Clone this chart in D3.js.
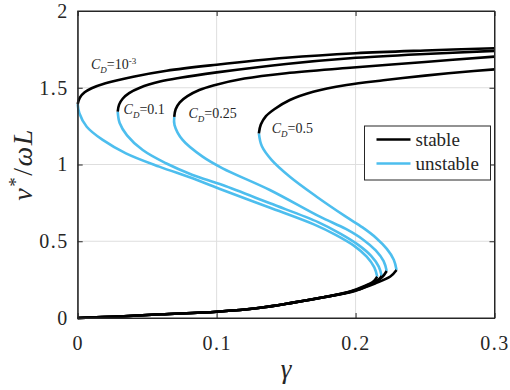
<!DOCTYPE html>
<html>
<head>
<meta charset="utf-8">
<script src="https://cdn.jsdelivr.net/npm/d3@7"></script>
<style>
  body { margin: 0; background: #fff; }
  svg text { font-family: "Liberation Serif", "Tinos", "Times New Roman", "DejaVu Serif", serif; }
</style>
</head>
<body>
<div id="chart"></div>
<script>
// Data: [gamma, v*/wL]
// each curve = lower stable branch + unstable middle branch + upper stable branch
const lowerCommon = [[0, 0], [0.03, 0.01], [0.06, 0.024], [0.1, 0.041], [0.13, 0.065], [0.155, 0.1], [0.177, 0.135]];

const lower1 = [[0.195, 0.17], [0.207, 0.21], [0.213, 0.24], [0.2156, 0.269]];
const lower2 = [[0.197, 0.172], [0.209, 0.215], [0.216, 0.245], [0.2188, 0.274]];
const lower3 = [[0.199, 0.175], [0.211, 0.22], [0.219, 0.265], [0.2224, 0.306]];
const lower4 = [[0.2, 0.18], [0.214, 0.225], [0.225, 0.27], [0.2295, 0.313]];

const unstable1 = [[0.2156, 0.269], [0.2135, 0.33], [0.208, 0.4], [0.199, 0.47], [0.186, 0.54], [0.17, 0.61],
  [0.138, 0.72], [0.1043, 0.834], [0.0827, 0.91], [0.0587, 0.986], [0.0347, 1.073], [0.018, 1.16],
  [0.0065, 1.246], [0.0012, 1.334], [0, 1.394]];
const unstable2 = [[0.2188, 0.274], [0.2167, 0.335], [0.2112, 0.405], [0.2022, 0.475], [0.189, 0.55], [0.173, 0.625],
  [0.1384, 0.747], [0.1043, 0.866], [0.0827, 0.932], [0.0635, 1.008], [0.0468, 1.094], [0.0355, 1.19],
  [0.0302, 1.27], [0.0288, 1.344]];
const unstable3 = [[0.2224, 0.306], [0.2202, 0.37], [0.2145, 0.44], [0.2055, 0.51], [0.193, 0.58], [0.1743, 0.66],
  [0.1383, 0.834], [0.1043, 0.975], [0.0899, 1.051], [0.0755, 1.16], [0.0697, 1.257], [0.0695, 1.311]];
const unstable4 = [[0.2295, 0.313], [0.2275, 0.38], [0.2225, 0.45], [0.215, 0.52], [0.205, 0.59], [0.193, 0.66],
  [0.172, 0.79], [0.1527, 0.92], [0.1395, 1.03], [0.1325, 1.12], [0.1304, 1.203]];

const upper1 = [[0, 1.394], [0.0015, 1.435], [0.005, 1.47], [0.01, 1.497], [0.02, 1.53], [0.04, 1.572], [0.064, 1.611],
  [0.1, 1.65], [0.15, 1.695], [0.2, 1.725], [0.25, 1.743], [0.3, 1.757]];
const upper2 = [[0.0288, 1.344], [0.0298, 1.39], [0.0325, 1.43], [0.037, 1.465], [0.0448, 1.5], [0.0592, 1.54],
  [0.0737, 1.565], [0.1, 1.6], [0.15, 1.655], [0.196, 1.692], [0.25, 1.72], [0.3, 1.74]];
const upper3 = [[0.0695, 1.311], [0.0705, 1.36], [0.0735, 1.405], [0.079, 1.445], [0.0875, 1.485], [0.0976, 1.515],
  [0.12, 1.56], [0.15, 1.595], [0.196, 1.63], [0.25, 1.668], [0.3, 1.703]];
const upper4 = [[0.1304, 1.203], [0.1318, 1.26], [0.1355, 1.315], [0.1415, 1.36], [0.1527, 1.42], [0.1695, 1.474],
  [0.1935, 1.518], [0.22, 1.549], [0.25, 1.579], [0.275, 1.601], [0.3, 1.62]];

const xTicks = [0, 0.1, 0.2, 0.3];
const yTicks = [0, 0.5, 1, 1.5, 2];
const xTickLabels = ["0", "0.1", "0.2", "0.3"];
const yTickLabels = ["0", "0.5", "1", "1.5", "2"];

const labels = [
  { cd: "=10", sup: "-3", g: 0.0095, v: 1.62 },
  { cd: "=0.1", sup: "", g: 0.033, v: 1.33 },
  { cd: "=0.25", sup: "", g: 0.0797, v: 1.30 },
  { cd: "=0.5", sup: "", g: 0.1396, v: 1.205 }
];
const legendItems = ["stable", "unstable"];

const black = "#000000", blue = "#4DBEEE", axisColor = "#262626";
const serif = "'Liberation Serif', Tinos, 'Times New Roman', 'DejaVu Serif', serif";

// Dimensions
const W = 510, H = 390;
const margin = { top: 11, left: 77.7, right: 15.5, bottom: 72 };
const width = W - margin.left - margin.right;
const height = H - margin.top - margin.bottom;

const svg = d3.select("#chart").append("svg")
  .attr("width", W).attr("height", H)
  .attr("font-family", serif);

const x = d3.scaleLinear().domain([0, 0.3]).range([0, width]);
const y = d3.scaleLinear().domain([0, 2]).range([height, 0]);

const g = svg.append("g").attr("transform", `translate(${margin.left},${margin.top})`);

// grid
g.selectAll(".gx").data(xTicks.slice(1, -1)).join("line")
  .attr("x1", d => x(d)).attr("x2", d => x(d)).attr("y1", 0).attr("y2", height)
  .attr("stroke", "#dedede").attr("stroke-width", 1);
g.selectAll(".gy").data(yTicks.slice(1, -1)).join("line")
  .attr("x1", 0).attr("x2", width).attr("y1", d => y(d)).attr("y2", d => y(d))
  .attr("stroke", "#dedede").attr("stroke-width", 1);

// curves
const line = d3.line()
  .x(d => x(d[0])).y(d => y(d[1]))
  .curve(d3.curveCatmullRom.alpha(0.5));

const unstable = [unstable1, unstable2, unstable3, unstable4];
const stable = [
  lowerCommon.concat(lower1), lowerCommon.concat(lower2), lowerCommon.concat(lower3), lowerCommon.concat(lower4),
  upper1, upper2, upper3, upper4
];

g.selectAll(".unstable").data(unstable).join("path")
  .attr("d", line).attr("fill", "none")
  .attr("stroke", blue).attr("stroke-width", 2.6);
g.selectAll(".stable").data(stable).join("path")
  .attr("d", line).attr("fill", "none")
  .attr("stroke", black).attr("stroke-width", 2.6);

// axes box and ticks (inward, all four sides)
const xAxis = d3.axisBottom(x).tickValues(xTicks).tickSizeInner(-5).tickSizeOuter(0).tickFormat((d, i) => xTickLabels[i]);
const yAxis = d3.axisLeft(y).tickValues(yTicks).tickSizeInner(-5).tickSizeOuter(0).tickFormat((d, i) => yTickLabels[i]);

const gx = g.append("g").attr("transform", `translate(0,${height})`).call(xAxis);
const gy = g.append("g").call(yAxis);
g.append("g").call(d3.axisTop(x).tickValues(xTicks).tickSizeInner(-5).tickSizeOuter(0).tickFormat(""));
g.append("g").attr("transform", `translate(${width},0)`)
  .call(d3.axisRight(y).tickValues(yTicks).tickSizeInner(-5).tickSizeOuter(0).tickFormat(""));

g.selectAll(".domain").attr("stroke", axisColor);
g.selectAll(".tick line").attr("stroke", axisColor);
g.selectAll("g").attr("font-family", serif);

gx.selectAll("text")
  .attr("y", 32).attr("dy", 0)
  .attr("font-size", 20).attr("letter-spacing", 1.5).attr("fill", axisColor);
gy.selectAll("text")
  .attr("x", -9).attr("dy", "0.32em")
  .attr("font-size", 20).attr("letter-spacing", 1.5).attr("fill", axisColor);

g.append("rect").attr("width", width).attr("height", height)
  .attr("fill", "none").attr("stroke", axisColor).attr("stroke-width", 1);

// curve labels
labels.forEach(l => {
  const t = g.append("text")
    .attr("x", x(l.g)).attr("y", y(l.v))
    .attr("font-size", 14).attr("fill", "#262626");
  t.append("tspan").attr("font-style", "italic").text("C");
  t.append("tspan").attr("font-style", "italic").attr("font-size", 9).attr("dy", 4).text("D");
  t.append("tspan").attr("dy", -4).text(l.cd);
  if (l.sup) t.append("tspan").attr("font-size", 9).attr("dy", -5).text(l.sup);
});

// axis titles
svg.append("text")
  .attr("x", margin.left + width / 2).attr("y", 378)
  .attr("text-anchor", "middle").attr("font-size", 27).attr("font-style", "italic")
  .attr("fill", axisColor).text("γ");

const yl = svg.append("text")
  .attr("transform", `translate(32,${margin.top + height / 2}) rotate(-90)`)
  .attr("text-anchor", "middle").attr("font-size", 28).attr("fill", axisColor)
  .attr("letter-spacing", 1.5);
yl.append("tspan").attr("font-style", "italic").text("v");
yl.append("tspan").attr("font-size", 19).attr("dy", -10).text("*");
yl.append("tspan").attr("dy", 10).text("/");
yl.append("tspan").attr("font-style", "italic").text("ωL");

// legend
const leg = svg.append("g").attr("transform", "translate(364.5,126)");
leg.append("rect").attr("width", 126).attr("height", 54)
  .attr("fill", "#fff").attr("stroke", axisColor).attr("stroke-width", 1);
legendItems.forEach((name, i) => {
  leg.append("line")
    .attr("x1", 12).attr("x2", 46).attr("y1", 13.5 + i * 24).attr("y2", 13.5 + i * 24)
    .attr("stroke", i === 0 ? black : blue).attr("stroke-width", 2.6);
  leg.append("text")
    .attr("x", 51).attr("y", 13.5 + i * 24).attr("dy", "0.32em")
    .attr("font-size", 19).attr("fill", axisColor).text(name);
});
</script>
</body>
</html>
